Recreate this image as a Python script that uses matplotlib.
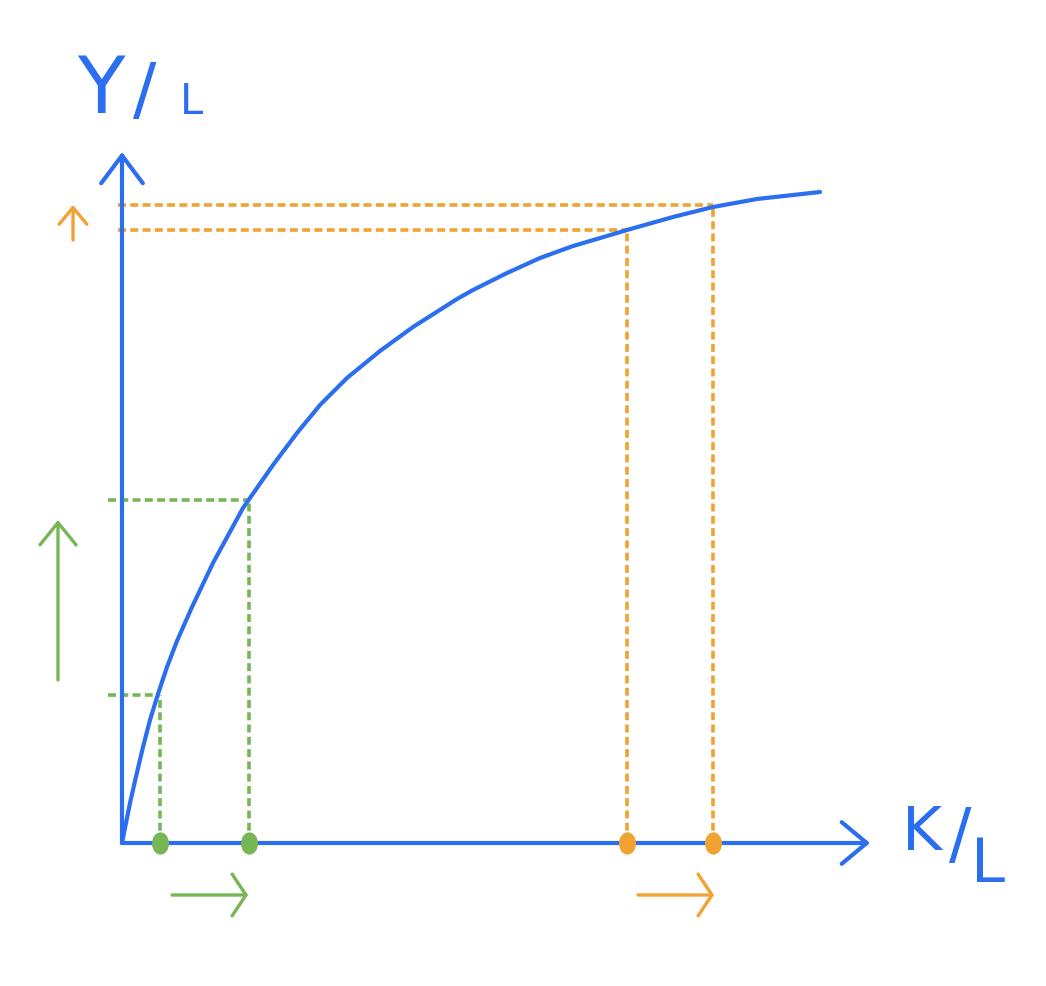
# Кривая производства на одного работника: y = f(k), сдвиги k

import matplotlib.pyplot as plt
from matplotlib.path import Path
from matplotlib.transforms import Affine2D

# Кривая (k = K/L, y = Y/L)
k_curve = [0.0, 0.08, 0.13, 0.21, 0.28, 0.36, 0.45, 0.55, 0.70, 0.91, 1.21,
           1.51, 1.75, 1.98, 2.25, 2.58, 2.91, 3.35, 3.51, 3.85, 4.18, 4.51,
           4.85, 5.05, 5.51, 5.91, 6.35, 6.98]
y_curve = [0.0, 0.40, 0.62, 0.96, 1.23, 1.49, 1.76, 2.02, 2.36, 2.80, 3.35,
           3.78, 4.10, 4.38, 4.65, 4.92, 5.16, 5.44, 5.53, 5.70, 5.85, 5.97,
           6.07, 6.13, 6.26, 6.36, 6.44, 6.51]

# Две пары точек: при малом k и при большом k
k_low = [0.38, 1.27]
y_low = [1.48, 3.43]
k_high = [5.05, 5.91]
y_high = [6.13, 6.38]

blue = "#2B6EF0"
green = "#77B655"
orange = "#F0A232"

fig = plt.figure(figsize=(10.46, 9.86), dpi=100)
ax = fig.add_axes([0, 0, 1, 1])
ax.set_xlim(-1.22, 9.24)
ax.set_ylim(-1.43, 8.43)
ax.axis("off")


def arrow(x0, y0, x1, y1, color, lw, hl, hw):
    ax.annotate("", xy=(x1, y1), xytext=(x0, y0),
                arrowprops=dict(arrowstyle=f"->,head_length={hl},head_width={hw}",
                                color=color, lw=lw, shrinkA=0, shrinkB=0,
                                mutation_scale=20, capstyle="round",
                                joinstyle="round"))


# Оси
arrow(0, 0, 0, 6.91, blue, 3, 1.0, 0.75)
arrow(0, 0, 7.48, 0, blue, 3, 0.9, 0.75)

# Пунктир
dash = dict(lw=2.6, linestyles=(0, (2.2, 1.2)))
ax.vlines(k_low, 0, y_low, color=green, **dash)
ax.hlines(y_low, -0.14, k_low, color=green, **dash)
ax.vlines(k_high, 0, y_high, color=orange, **dash)
ax.hlines(y_high, -0.04, k_high, color=orange, **dash)

# Кривая
ax.plot(k_curve, y_curve, color=blue, lw=3, solid_capstyle="round",
        solid_joinstyle="round", zorder=3)

# Точки на оси (слегка вытянутые по вертикали, как от руки)
ell = Path.unit_circle().transformed(Affine2D().scale(0.75, 1.0))
ax.plot(k_low, [0] * len(k_low), ls="none", marker=ell, color=green,
        ms=15, zorder=4)
ax.plot(k_high, [0] * len(k_high), ls="none", marker=ell, color=orange,
        ms=15, zorder=4)

# Стрелки сдвигов
arrow(0.50, -0.52, 1.26, -0.52, green, 2.4, 0.5, 0.75)
arrow(-0.64, 1.63, -0.64, 3.23, green, 2.4, 0.8, 0.65)
arrow(5.16, -0.52, 5.92, -0.52, orange, 2.4, 0.5, 0.75)
arrow(-0.49, 6.03, -0.49, 6.38, orange, 2.4, 0.6, 0.5)

# Подписи осей
txt = dict(color=blue, ha="center", va="center", family="DejaVu Sans")
ax.text(-0.21, 7.52, "Y", fontsize=56, **txt)
ax.text(0.23, 7.49, "/", fontsize=50, **txt)
ax.text(0.69, 7.41, "L", fontsize=30, **txt)
ax.text(8.00, 0.10, "K", fontsize=44, **txt)
ax.text(8.38, 0.05, "/", fontsize=48, **txt)
ax.text(8.66, -0.22, "L", fontsize=44, **txt)

fig.savefig("out.png", dpi=100)
